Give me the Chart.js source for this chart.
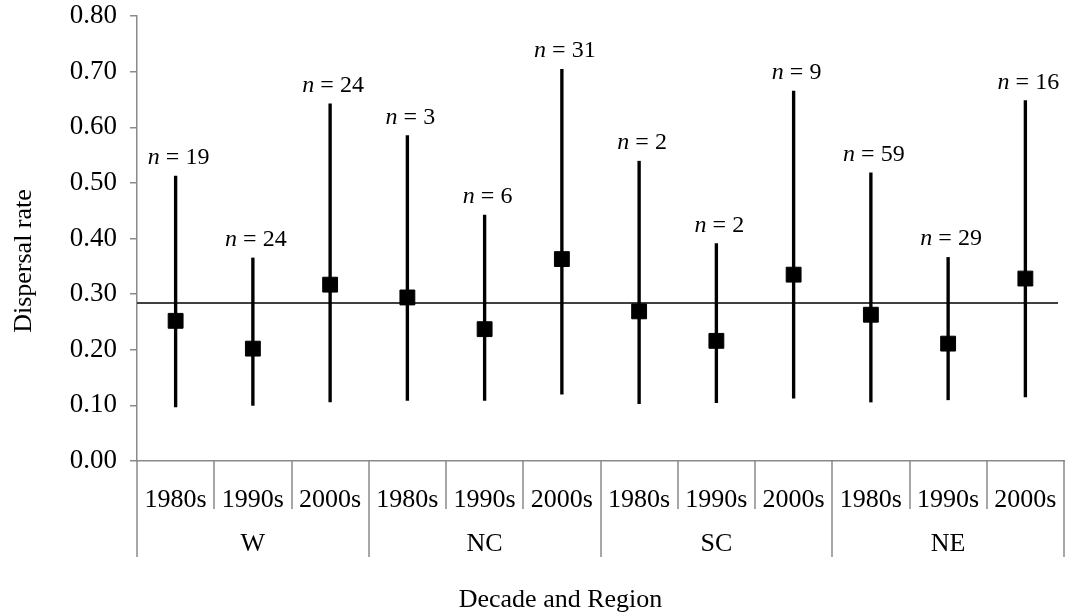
<!DOCTYPE html>
<html>
<head>
<meta charset="utf-8">
<script src="https://cdn.jsdelivr.net/npm/chart.js@4/dist/chart.umd.min.js"></script>
<style>
  html, body { margin: 0; padding: 0; background: #ffffff; }
  #wrap { width: 1066px; height: 613px; }
</style>
</head>
<body>
<div id="wrap"><canvas id="c" width="1066" height="613"></canvas></div>
<script>
// Dispersal rate by decade within each region (mean with range)
const regions = ['W', 'NC', 'SC', 'NE'];
const decades = ['1980s', '1990s', '2000s'];
const means = [0.252, 0.202, 0.317, 0.294, 0.237, 0.363, 0.269, 0.216, 0.335, 0.263, 0.211, 0.328];
const lows  = [0.097, 0.100, 0.106, 0.109, 0.109, 0.120, 0.103, 0.105, 0.113, 0.106, 0.110, 0.115];
const highs = [0.512, 0.365, 0.642, 0.585, 0.442, 0.704, 0.539, 0.391, 0.665, 0.518, 0.366, 0.648];
const sampleSizes = [19, 24, 24, 3, 6, 31, 2, 2, 9, 59, 29, 16];
const overallMean = 0.284;
const yMin = 0, yMax = 0.8, yStep = 0.1;

const SERIF = '"Liberation Serif", "Times New Roman", Times, serif';
const AXIS_GREY = '#8a8a8a';

const categoryLabels = regions.flatMap(() => decades);
const ranges = lows.map((lo, i) => [lo, highs[i]]);

const annotate = {
  id: 'annotate',
  beforeDatasetsDraw(chart) {
    // overall mean reference line
    const { ctx, chartArea, scales: { y } } = chart;
    const py = y.getPixelForValue(overallMean);
    ctx.save();
    ctx.strokeStyle = '#404040';
    ctx.lineWidth = 2;
    ctx.beginPath();
    ctx.moveTo(chartArea.left, py);
    ctx.lineTo(chartArea.right - 6, py);
    ctx.stroke();
    ctx.restore();
  },
  afterDatasetsDraw(chart) {
    // sample size labels above each range
    const { ctx, scales: { x, y } } = chart;
    ctx.save();
    ctx.fillStyle = '#000';
    ctx.textBaseline = 'alphabetic';
    ctx.textAlign = 'left';
    sampleSizes.forEach((n, i) => {
      const cx = x.getPixelForValue(i) + 3;
      const base = y.getPixelForValue(highs[i]) - 12;
      ctx.font = 'italic 24px ' + SERIF;
      const wN = ctx.measureText('n').width;
      ctx.font = '24px ' + SERIF;
      const rest = ' = ' + n;
      const wR = ctx.measureText(rest).width;
      const sx = cx - (wN + wR) / 2;
      ctx.font = 'italic 24px ' + SERIF;
      ctx.fillText('n', sx, base);
      ctx.font = '24px ' + SERIF;
      ctx.fillText(rest, sx + wN, base);
    });
    ctx.restore();
  },
  afterDraw(chart) {
    const { ctx, scales: { x, y } } = chart;
    const axisY = y.bottom;
    ctx.save();
    // category dividers below the axis
    ctx.strokeStyle = AXIS_GREY;
    ctx.lineWidth = 1.5;
    for (let i = 0; i <= categoryLabels.length; i++) {
      const bx = Math.round(x.getPixelForValue(i - 0.5));
      const len = (i % decades.length === 0) ? 96 : 48;
      ctx.beginPath();
      ctx.moveTo(bx, axisY);
      ctx.lineTo(bx, axisY + len);
      ctx.stroke();
    }
    // region labels
    ctx.fillStyle = '#000';
    ctx.font = '26px ' + SERIF;
    ctx.textAlign = 'center';
    ctx.textBaseline = 'alphabetic';
    regions.forEach((r, g) => {
      const gx = x.getPixelForValue(g * decades.length + (decades.length - 1) / 2);
      ctx.fillText(r, gx, axisY + 89.5);
    });
    // axis titles
    ctx.fillText('Decade and Region', 560.5, 606.5);
    ctx.translate(30.5, 261);
    ctx.rotate(-Math.PI / 2);
    ctx.fillText('Dispersal rate', 0, 0);
    ctx.restore();
  }
};

new Chart(document.getElementById('c'), {
  data: {
    labels: categoryLabels,
    datasets: [
      {
        type: 'line',
        label: 'Mean',
        data: means,
        showLine: false,
        pointStyle: 'rect',
        pointRadius: 10.5,
        pointHoverRadius: 10.5,
        pointBackgroundColor: '#000',
        pointBorderColor: '#000',
        pointBorderWidth: 1,
        order: 0
      },
      {
        type: 'bar',
        label: 'Range',
        data: ranges,
        backgroundColor: '#000',
        borderWidth: 0,
        barThickness: 2.7,
        order: 1
      }
    ]
  },
  options: {
    responsive: false,
    animation: false,
    devicePixelRatio: 1,
    layout: { autoPadding: false, padding: { top: 16, right: 2, bottom: 0, left: 0 } },
    plugins: {
      legend: { display: false },
      tooltip: { enabled: false },
      title: { display: false }
    },
    scales: {
      x: {
        type: 'category',
        offset: true,
        grid: { display: false },
        border: { display: true, color: AXIS_GREY, width: 1.5 },
        ticks: {
          color: '#000',
          font: { family: SERIF, size: 26, lineHeight: 1.2 },
          padding: 16,
          maxRotation: 0,
          minRotation: 0,
          autoSkip: false
        },
        afterFit(scale) {
          scale.height = 152;
          scale.paddingLeft = 0;
          scale.paddingRight = 0;
        }
      },
      y: {
        min: yMin,
        max: yMax,
        grid: {
          drawOnChartArea: false,
          drawTicks: true,
          tickLength: 7,
          color: AXIS_GREY,
          lineWidth: 1.5
        },
        border: { display: true, color: AXIS_GREY, width: 1.5 },
        ticks: {
          stepSize: yStep,
          color: '#000',
          font: { family: SERIF, size: 27 },
          padding: 13,
          callback: (v) => Number(v).toFixed(2)
        },
        afterFit(scale) {
          scale.width = 137;
          scale.paddingTop = 0;
          scale.paddingBottom = 0;
        }
      }
    }
  },
  plugins: [annotate]
});
</script>
</body>
</html>
